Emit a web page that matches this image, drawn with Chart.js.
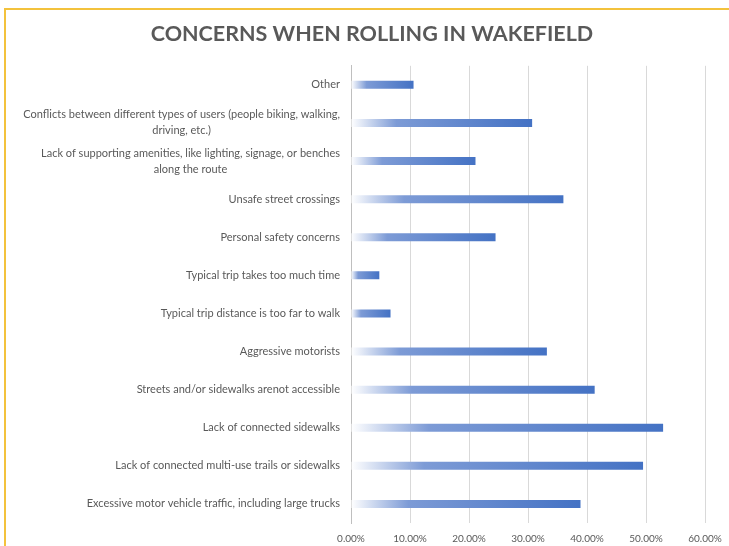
<!DOCTYPE html>
<html>
<head>
    <title>Concerns When Rolling in Wakefield</title>
    <script src="https://cdn.jsdelivr.net/npm/chart.js"></script>
    <style>
        body { margin: 0; background: #fff; }
        #wrap { position: relative; width: 729px; height: 546px; overflow: hidden; }
        #frame { position: absolute; left: 4px; top: 8px; right: -10px; bottom: -10px;
                 border-top: 2px solid #f3c23c; border-left: 2px solid #f3c23c; }
        canvas { position: absolute; left: 0; top: 0; }
    </style>
</head>
<body>
<div id="wrap">
    <div id="frame"></div>
    <canvas id="concernsChart" width="729" height="546"></canvas>
</div>

<script>
    // categories, top to bottom as in the survey chart
    const categories = [
        'Other',
        ['Conflicts between different types of users (people biking, walking,', 'driving, etc.)'],
        ['Lack of supporting amenities, like lighting, signage, or benches', 'along the route'],
        'Unsafe street crossings',
        'Personal safety concerns',
        'Typical trip takes too much time',
        'Typical trip distance is too far to walk',
        'Aggressive motorists',
        'Streets and/or sidewalks arenot accessible',
        'Lack of connected sidewalks',
        'Lack of connected multi-use trails or sidewalks',
        'Excessive motor vehicle traffic, including large trucks'
    ];

    // share of respondents, in percent
    const shares = [10.6, 30.7, 21.1, 36.0, 24.5, 4.8, 6.7, 33.2, 41.3, 52.9, 49.5, 38.9];

    // x axis ticks
    const tickValues = [0, 10, 20, 30, 40, 50, 60];

    const labelFont = '11px Lato';
    const textGray = '#595959';

    // y labels drawn by hand so two-line labels are centred like in Excel
    const centredLabels = {
        id: 'centredLabels',
        afterDraw(chart) {
            const ctx = chart.ctx;
            const y = chart.scales.y;
            ctx.save();
            ctx.font = labelFont;
            ctx.fillStyle = textGray;
            ctx.textAlign = 'center';
            ctx.textBaseline = 'middle';
            categories.forEach((cat, i) => {
                const lines = [].concat(cat);
                const w = Math.max(...lines.map(l => ctx.measureText(l).width));
                const cx = y.right - 11 - w / 2;
                const py = y.getPixelForTick(i);
                lines.forEach((l, j) => {
                    ctx.fillText(l, cx, py + (j - (lines.length - 1) / 2) * 16);
                });
            });
            ctx.restore();
        }
    };

    // gradient per bar, pale at the base to full blue at the end
    function barFill(context) {
        const chart = context.chart;
        if (!chart.chartArea || context.type !== 'data') return '#4472c4';
        const x = chart.scales.x;
        const x0 = x.getPixelForValue(0);
        const x1 = x.getPixelForValue(context.raw);
        const g = chart.ctx.createLinearGradient(x0, 0, x1, 0);
        g.addColorStop(0, 'rgba(255,255,255,1)');
        g.addColorStop(0.25, '#7d9bd6');
        g.addColorStop(1, '#4472c4');
        return g;
    }

    new Chart(document.getElementById('concernsChart').getContext('2d'), {
        type: 'bar',
        data: {
            labels: categories,
            datasets: [{
                data: shares,
                backgroundColor: barFill,
                borderWidth: 0,
                barPercentage: 0.21,
                categoryPercentage: 1
            }]
        },
        plugins: [centredLabels],
        options: {
            indexAxis: 'y',
            responsive: false,
            animation: false,
            layout: { padding: { left: 15, right: 0, top: 0, bottom: 1 } },
            plugins: {
                legend: { display: false },
                tooltip: { enabled: false },
                title: {
                    display: true,
                    text: 'CONCERNS WHEN ROLLING IN WAKEFIELD',
                    color: textGray,
                    font: { family: 'Lato', size: 21.5, weight: 'bold' },
                    padding: { top: 21, bottom: 19 }
                }
            },
            scales: {
                x: {
                    min: 0,
                    max: 60,
                    afterBuildTicks: axis => { axis.ticks = tickValues.map(v => ({ value: v })); },
                    ticks: {
                        color: textGray,
                        font: { family: 'Lato', size: 10 },
                        padding: 10,
                        maxRotation: 0,
                        callback: v => v.toFixed(2) + '%'
                    },
                    grid: { color: '#d9d9d9', drawTicks: false },
                    border: { display: false },
                    afterFit: scale => { scale.height = 22; scale.paddingRight = 24; }
                },
                y: {
                    ticks: { display: false },
                    grid: { display: false },
                    border: { display: true, color: '#bfbfbf' },
                    afterFit: scale => { scale.width = 336; }
                }
            }
        }
    });
</script>
</body>
</html>
